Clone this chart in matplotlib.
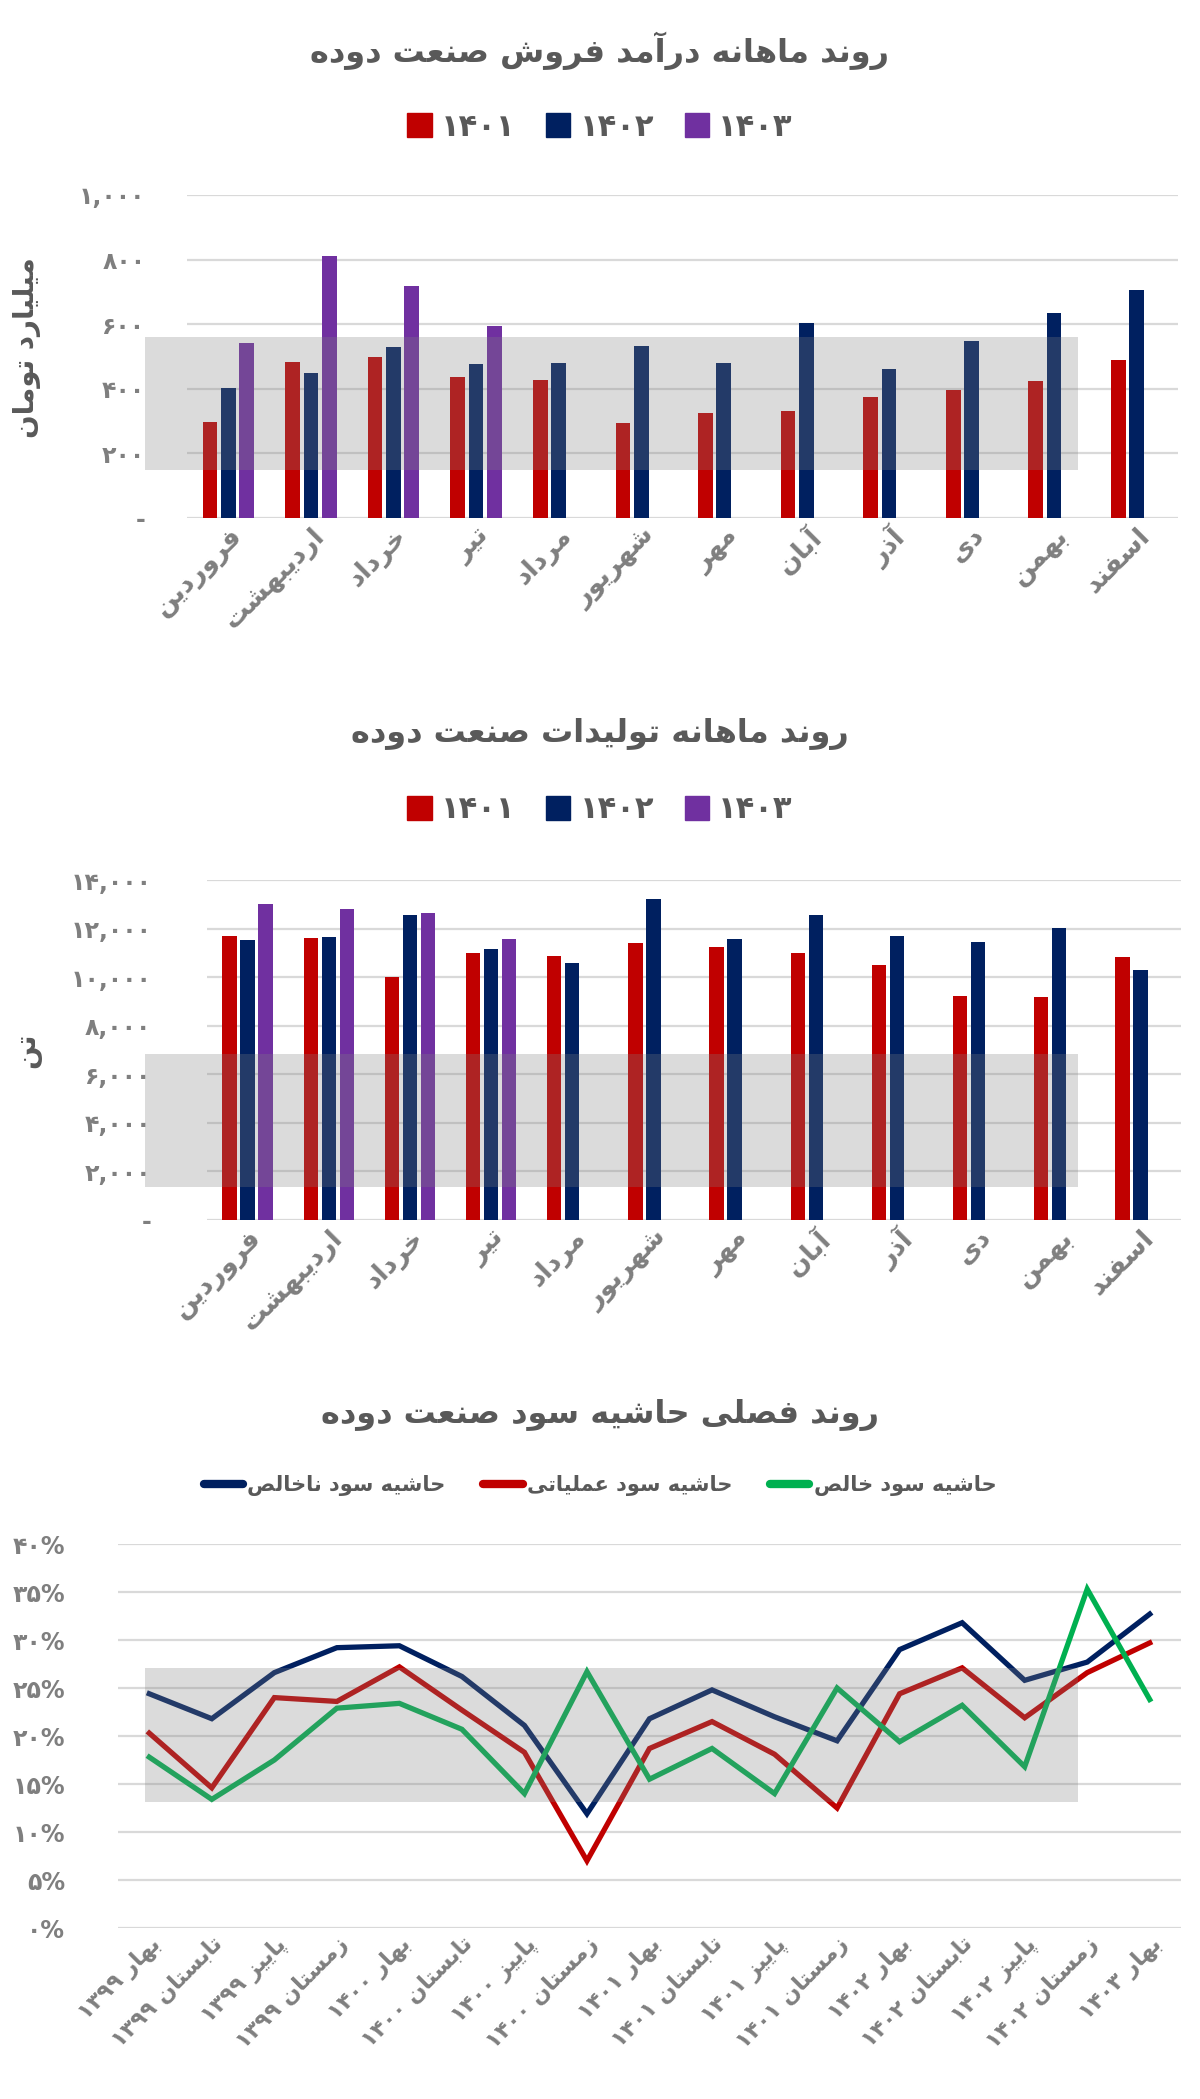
import matplotlib
matplotlib.use("Agg")
import matplotlib.pyplot as plt
import numpy as np
from matplotlib.patches import Rectangle
from matplotlib.lines import Line2D
from matplotlib.ticker import FuncFormatter, MultipleLocator

plt.rcParams['font.family'] = ['DejaVu Sans']

nan = np.nan
months = ['فروردین', 'اردیبهشت', 'خرداد', 'تیر', 'مرداد', 'شهریور',
          'مهر', 'آبان', 'آذر', 'دی', 'بهمن', 'اسفند']
years = ['۱۴۰۱', '۱۴۰۲', '۱۴۰۳']

# monthly revenue (billion toman)
rev_1401 = [298, 482, 499, 437, 428, 295, 324, 331, 376, 397, 423, 489]
rev_1402 = [402, 449, 529, 476, 481, 532, 479, 604, 461, 547, 635, 706]
rev_1403 = [542, 812, 717, 594, nan, nan, nan, nan, nan, nan, nan, nan]

# monthly production (tonnes)
prod_1401 = [11700, 11600, 10010, 10990, 10880, 11390, 11230, 11000, 10490, 9220, 9180, 10850]
prod_1402 = [11540, 11670, 12560, 11170, 10590, 13230, 11580, 12540, 11690, 11440, 12040, 10280]
prod_1403 = [13030, 12810, 12650, 11560, nan, nan, nan, nan, nan, nan, nan, nan]

# seasonal margins (%)
seasons = ['بهار ۱۳۹۹', 'تابستان ۱۳۹۹', 'پاییز ۱۳۹۹', 'زمستان ۱۳۹۹',
           'بهار ۱۴۰۰', 'تابستان ۱۴۰۰', 'پاییز ۱۴۰۰', 'زمستان ۱۴۰۰',
           'بهار ۱۴۰۱', 'تابستان ۱۴۰۱', 'پاییز ۱۴۰۱', 'زمستان ۱۴۰۱',
           'بهار ۱۴۰۲', 'تابستان ۱۴۰۲', 'پاییز ۱۴۰۲', 'زمستان ۱۴۰۲', 'بهار ۱۴۰۳']
gross = [24.4, 21.8, 26.6, 29.2, 29.4, 26.2, 21.1, 11.9, 21.8, 24.8, 22.0, 19.5, 29.0, 31.8, 25.8, 27.7, 32.7]
operating = [20.3, 14.6, 24.0, 23.6, 27.2, 22.7, 18.3, 7.0, 18.7, 21.5, 18.1, 12.5, 24.4, 27.1, 21.9, 26.6, 29.7]
net = [17.8, 13.4, 17.5, 22.9, 23.4, 20.7, 14.0, 26.7, 15.5, 18.7, 14.0, 25.0, 19.4, 23.2, 16.8, 35.3, 23.8]
margin_names = ['حاشیه سود ناخالص', 'حاشیه سود عملیاتی', 'حاشیه سود خالص']

RED, NAVY, PURPLE, GREEN = '#C00000', '#002060', '#7030A0', '#00B050'
TXT, TICK, GRID = '#595959', '#7F7F7F', '#D9D9D9'

# --- minimal persian shaping (matplotlib has no bidi / joining) ---
JOIN = {'ا': (0xFE8D, 2), 'آ': (0xFE81, 2), 'ب': (0xFE8F, 4), 'پ': (0xFB56, 4),
        'ت': (0xFE95, 4), 'ح': (0xFEA1, 4), 'خ': (0xFEA5, 4), 'د': (0xFEA9, 2),
        'ذ': (0xFEAB, 2), 'ر': (0xFEAD, 2), 'ز': (0xFEAF, 2), 'س': (0xFEB1, 4),
        'ش': (0xFEB5, 4), 'ص': (0xFEB9, 4), 'ع': (0xFEC9, 4), 'ف': (0xFED1, 4),
        'ل': (0xFEDD, 4), 'م': (0xFEE1, 4), 'ن': (0xFEE5, 4), 'ه': (0xFEE9, 4),
        'و': (0xFEED, 2), 'ی': (0xFBFC, 4)}


def shape(word):
    out = []
    for i, ch in enumerate(word):
        if ch not in JOIN:
            out.append(ch)
            continue
        base, n = JOIN[ch]
        prev = i > 0 and word[i - 1] in JOIN and JOIN[word[i - 1]][1] == 4
        nxt = n == 4 and i + 1 < len(word) and word[i + 1] in JOIN
        k = 3 if (prev and nxt) else 1 if prev else 2 if nxt else 0
        out.append(chr(base + k))
    return ''.join(out)


def fa(text):
    words = []
    for w in text.split(' '):
        if any(c in JOIN for c in w):
            w = shape(w)[::-1]
        words.append(w)
    return ' '.join(words[::-1])


DIG = str.maketrans('0123456789', '۰۱۲۳۴۵۶۷۸۹')

W, H = 1200, 2099
fig = plt.figure(figsize=(W / 100, H / 100), dpi=100)


def box(x0, y0, x1, y1):
    # pixel box (top-left origin) -> figure fraction rect
    return [x0 / W, 1 - y1 / H, (x1 - x0) / W, (y1 - y0) / H]


def style(ax, ymax, step, fmt, pad):
    ax.set_ylim(0, ymax)
    ax.yaxis.set_major_locator(MultipleLocator(step))
    ax.yaxis.set_major_formatter(FuncFormatter(fmt))
    ax.grid(axis='y', color=GRID, lw=1.6)
    ax.set_axisbelow(True)
    for s in ax.spines.values():
        s.set_visible(False)
    ax.tick_params(length=0, colors=TICK)
    ax.tick_params(axis='y', pad=pad, labelsize=17)
    for t in ax.get_yticklabels():
        t.set_fontweight('bold')


def thousands(v, _):
    return '-' if v == 0 else f'{v:,.0f}'.translate(DIG)


def bar_chart(rect, s1, s2, s3, ymax, step, pad):
    ax = fig.add_axes(rect)
    x = np.arange(len(months))
    for k, (vals, c, lab) in enumerate(zip([s1, s2, s3], [RED, NAVY, PURPLE], years)):
        ax.bar(x + (k - 1) * 0.222, vals, width=0.178, color=c, label=lab)
    ax.set_xlim(-0.5, len(months) - 0.5)
    ax.set_xticks(x)
    ax.set_xticklabels([fa(m) for m in months], rotation=45, ha='right',
                       rotation_mode='anchor', fontsize=19, fontweight='bold', color=TICK)
    style(ax, ymax, step, thousands, pad)
    return ax


def legend_bars(ycen):
    handles = [Rectangle((0, 0), 1, 1, color=c) for c in [RED, NAVY, PURPLE]]
    fig.legend(handles, years, loc='center', bbox_to_anchor=(0.5, 1 - ycen / H), ncol=3,
               frameon=False, handlelength=0.8, handleheight=0.8,
               handletextpad=0.3, columnspacing=1.0, labelcolor=TXT,
               prop={'weight': 'bold', 'size': 22})


# chart 1: revenue
bar_chart(box(187, 195, 1178, 518), rev_1401, rev_1402, rev_1403, 1000, 200, 30)
fig.text(0.5, 1 - 51 / H, fa('روند ماهانه درآمد فروش صنعت دوده'), ha='center', va='center',
         fontsize=23, fontweight='bold', color=TXT)
legend_bars(127)
fig.text(27 / W, 1 - 348 / H, fa('میلیارد تومان'), rotation=90, ha='center', va='center',
         fontsize=20, fontweight='bold', color=TXT)

# chart 2: production
bar_chart(box(207, 880, 1181, 1220), prod_1401, prod_1402, prod_1403, 14000, 2000, 40)
fig.text(0.5, 1 - 734 / H, fa('روند ماهانه تولیدات صنعت دوده'), ha='center', va='center',
         fontsize=23, fontweight='bold', color=TXT)
legend_bars(810)
fig.text(27 / W, 1 - 1050 / H, fa('تن'), rotation=90, ha='center', va='center',
         fontsize=20, fontweight='bold', color=TXT)

# chart 3: margins
ax3 = fig.add_axes(box(118, 1544, 1181, 1928))
xs = np.arange(len(seasons))
for vals, c, lab in zip([gross, operating, net], [NAVY, RED, GREEN], margin_names):
    ax3.plot(xs, vals, color=c, lw=3.8, solid_joinstyle='miter', label=fa(lab))
ax3.set_xlim(-0.5, len(seasons) - 0.5)
ax3.set_xticks(xs)
ax3.set_xticklabels([fa(s) for s in seasons], rotation=45, ha='right', rotation_mode='anchor',
                    fontsize=16, fontweight='bold', color=TICK)
style(ax3, 40, 5, lambda v, _: f'{v:.0f}%'.translate(DIG), 38)
fig.text(0.5, 1 - 1415 / H, fa('روند فصلی حاشیه سود صنعت دوده'), ha='center', va='center',
         fontsize=23, fontweight='bold', color=TXT)
hl = [Line2D([], [], color=c, lw=6, solid_capstyle='round') for c in [NAVY, RED, GREEN]]
fig.legend(hl, [fa(n) for n in margin_names], loc='center', bbox_to_anchor=(0.5, 1 - 1486 / H),
           ncol=3, frameon=False, handlelength=1.9, handletextpad=0.2,
           columnspacing=1.8, labelcolor=TXT, prop={'weight': 'bold', 'size': 15})

# grey watermark bands
for y0, y1 in [(337, 470), (1054, 1187), (1668, 1802)]:
    fig.add_artist(Rectangle(box(145, y0, 1078, y1)[:2], 933 / W, (y1 - y0) / H,
                             transform=fig.transFigure, color='#808080', alpha=0.28,
                             lw=0, zorder=5))

fig.savefig('out.png', dpi=100)
